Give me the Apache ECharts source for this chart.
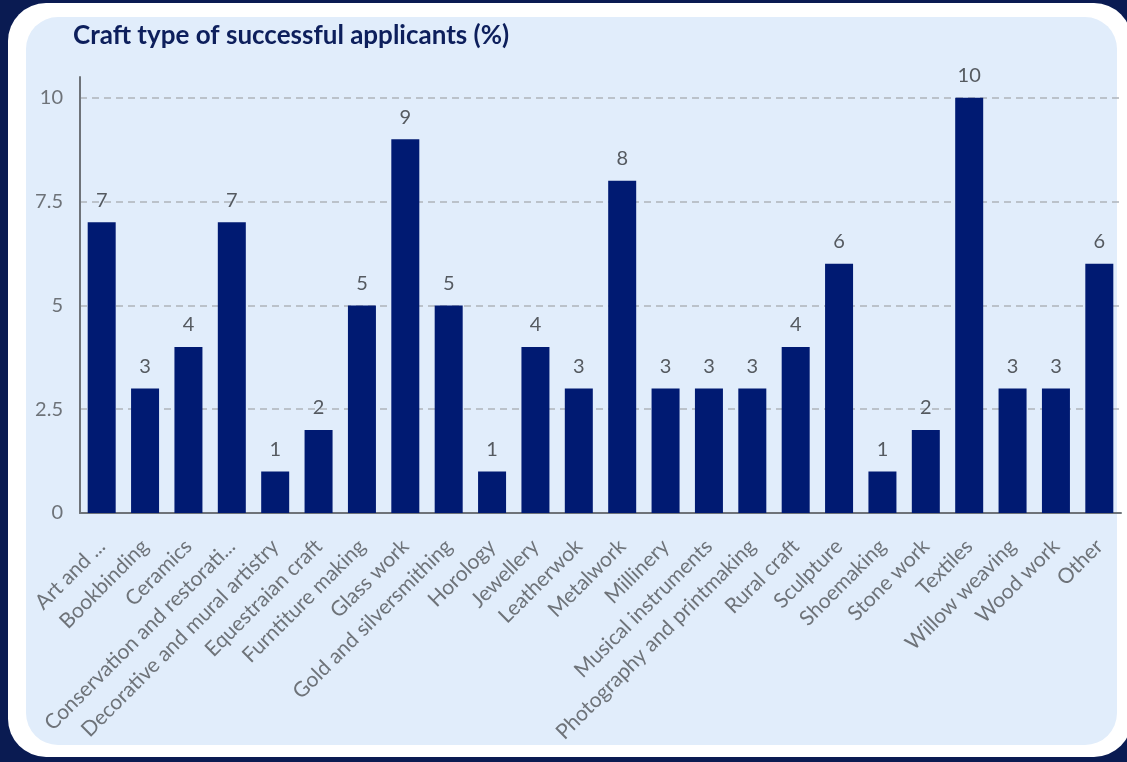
<!DOCTYPE html>
<html>
<head>
<meta charset="utf-8">
<script src="https://cdn.jsdelivr.net/npm/echarts@6/dist/echarts.min.js"></script>
<style>
  html, body { margin: 0; padding: 0; width: 1127px; height: 762px; overflow: hidden; background: #0a1b52; }
  #outer { position: absolute; left: 8px; top: 3px; width: 1124px; height: 754px; background: #ffffff; border-radius: 38px; }
  #panel { position: absolute; left: 26px; top: 17px; width: 1091px; height: 728px; background: #e1edfb; border-radius: 32px; }
  #chart { position: absolute; left: 0; top: 0; width: 1127px; height: 762px; }
</style>
</head>
<body>
<div id="outer"></div>
<div id="panel"></div>
<div id="chart"></div>
<script>
const categories = [
  "Art and ...", "Bookbinding", "Ceramics", "Conservation and restorati...",
  "Decorative and mural artistry", "Equestraian craft", "Furntiture making",
  "Glass work", "Gold and silversmithing", "Horology", "Jewellery", "Leatherwok",
  "Metalwork", "Millinery", "Musical instruments", "Photography and printmaking",
  "Rural craft", "Sculpture", "Shoemaking", "Stone work", "Textiles",
  "Willow weaving", "Wood work", "Other"
];
const values = [7, 3, 4, 7, 1, 2, 5, 9, 5, 1, 4, 3, 8, 3, 3, 3, 4, 6, 1, 2, 10, 3, 3, 6];
const yTicks = [0, 2.5, 5, 7.5, 10];

const chart = echarts.init(document.getElementById('chart'), null, { renderer: 'canvas' });
chart.setOption({
  backgroundColor: 'transparent',
  animation: false,
  title: {
    text: 'Craft type of successful applicants (%)',
    left: 68, top: 18,
    textStyle: { fontFamily: 'Lato', fontWeight: 'bold', fontSize: 26, color: '#0d1f5c' }
  },
  grid: { left: 80, right: 6, top: 77, bottom: 249, containLabel: false },
  xAxis: {
    type: 'category',
    data: categories,
    axisLine: { show: true, lineStyle: { color: '#6e7379', width: 2 } },
    axisTick: { show: false },
    axisLabel: {
      interval: 0, rotate: 45, margin: 30,
      fontFamily: 'Lato', fontSize: 21, color: '#6e7379'
    }
  },
  yAxis: {
    type: 'value',
    min: 0, max: 10.5, interval: 2.5,
    axisLine: { show: true, lineStyle: { color: '#6e7379', width: 2 } },
    axisTick: { show: false },
    axisLabel: {
      margin: 17, fontFamily: 'Lato', fontSize: 20, color: '#6e7379',
      showMaxLabel: false,
      formatter: v => (yTicks.indexOf(v) >= 0 ? String(v) : '')
    },
    splitLine: {
      show: true, showMinLine: false, showMaxLine: false,
      lineStyle: { color: '#aeb4bb', type: [7, 5], width: 1.5 }
    }
  },
  series: [{
    type: 'bar',
    data: values,
    barWidth: 28,
    itemStyle: { color: '#001a72' },
    label: {
      show: true, position: 'top', distance: 12,
      fontFamily: 'Lato', fontSize: 20, color: '#555a60'
    }
  }]
});
</script>
</body>
</html>
